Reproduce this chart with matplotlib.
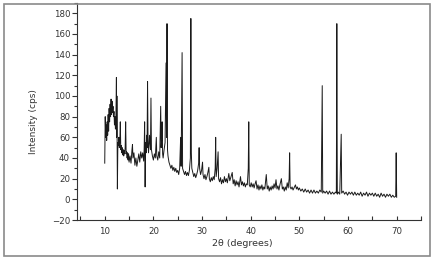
import matplotlib
matplotlib.use("Agg")
import matplotlib.pyplot as plt
from matplotlib.patches import Rectangle
from matplotlib.ticker import MultipleLocator

two_theta = [
    10.0, 10.1, 10.2, 10.3, 10.4, 10.5, 10.6, 10.7, 10.8, 10.9,
    11.0, 11.1, 11.2, 11.3, 11.4, 11.5, 11.6, 11.7, 11.8, 11.9,
    12.0, 12.1, 12.2, 12.3, 12.4, 12.45, 12.5, 12.6, 12.7, 12.8,
    12.9, 13.0, 13.1, 13.2, 13.3, 13.4, 13.5, 13.6, 13.7, 13.8,
    13.9, 14.0, 14.1, 14.2, 14.3, 14.4, 14.5, 14.6, 14.7, 14.8,
    14.9, 15.0, 15.2, 15.4, 15.6, 15.7, 15.8, 16.0, 16.2, 16.4,
    16.6, 16.8, 17.0, 17.2, 17.4, 17.6, 17.8, 18.0, 18.1, 18.2,
    18.3, 18.4, 18.5, 18.6, 18.7, 18.8, 18.9, 19.0, 19.2, 19.4,
    19.5, 19.6, 19.8, 20.0, 20.2, 20.4, 20.6, 20.7, 20.9, 21.1,
    21.3, 21.5, 21.6, 21.7, 21.8, 21.9, 22.0, 22.2, 22.4, 22.6,
    22.7, 22.8, 22.9, 23.0, 23.2, 23.4, 23.6, 23.8, 24.0, 24.2,
    24.4, 24.6, 24.8, 25.0, 25.2, 25.4, 25.6, 25.7, 25.9, 26.0,
    26.2, 26.4, 26.6, 26.8, 27.0, 27.2, 27.4, 27.6, 27.7, 27.8,
    27.9, 28.1, 28.3, 28.5, 28.7, 28.9, 29.1, 29.3, 29.4, 29.5,
    29.7, 29.9, 30.1, 30.2, 30.4, 30.6, 30.8, 31.0, 31.2, 31.4,
    31.5, 31.7, 31.9, 32.1, 32.3, 32.5, 32.7, 32.8, 32.9, 33.1,
    33.3, 33.4, 33.6, 33.8, 34.0, 34.2, 34.4, 34.6, 34.8, 35.0,
    35.2, 35.5, 35.7, 35.9, 36.2, 36.4, 36.6, 36.8, 37.0, 37.2,
    37.4, 37.6, 37.9, 38.1, 38.3, 38.5, 38.7, 38.9, 39.1, 39.3,
    39.5, 39.6, 39.7, 39.9, 40.1, 40.3, 40.5, 40.7, 40.9, 41.1,
    41.3, 41.5, 41.7, 41.9, 42.1, 42.3, 42.5, 42.7, 42.9, 43.2,
    43.4, 43.6, 43.8, 44.0, 44.2, 44.4, 44.6, 44.8, 45.0, 45.2,
    45.4, 45.6, 45.8, 46.0, 46.3, 46.5, 46.7, 46.9, 47.1, 47.3,
    47.5, 47.7, 47.9, 48.0, 48.1, 48.3, 48.5, 48.7, 48.9, 49.2,
    49.4, 49.6, 49.8, 50.0, 50.3, 50.6, 50.9, 51.2, 51.5, 51.8,
    52.1, 52.4, 52.7, 53.0, 53.3, 53.6, 53.9, 54.2, 54.5, 54.7,
    54.8, 55.0, 55.3, 55.6, 55.9, 56.2, 56.5, 56.8, 57.1, 57.4,
    57.6, 57.7, 57.8, 58.0, 58.3, 58.6, 58.7, 59.0, 59.3, 59.6,
    59.9, 60.2, 60.5, 60.8, 61.1, 61.4, 61.7, 62.0, 62.3, 62.6,
    62.9, 63.2, 63.5, 63.8, 64.1, 64.4, 64.7, 65.0, 65.3, 65.6,
    65.9, 66.2, 66.5, 66.8, 67.1, 67.4, 67.7, 68.0, 68.3, 68.6,
    68.9, 69.2, 69.5, 69.8, 69.9, 70.0,
]

intensity = [
    35, 80, 60, 72, 57, 75, 62, 82, 66, 88,
    75, 92, 80, 97, 82, 95, 84, 90, 80, 85,
    72, 80, 68, 78, 118, 60, 100, 10, 55, 52,
    60, 50, 56, 75, 48, 52, 45, 50, 43, 48,
    42, 47, 44, 50, 75, 44, 46, 40, 45, 38,
    44, 36, 42, 35, 48, 53, 40, 45, 33, 40,
    32, 38, 44, 36, 46, 40, 45, 37, 48, 75,
    12, 55, 45, 62, 50, 114, 55, 45, 62, 48,
    98, 48, 42, 38, 44, 40, 60, 42, 38, 46,
    40, 90, 50, 58, 75, 44, 40, 48, 55, 132,
    60, 170, 48, 42, 36, 33, 30, 33, 28, 31,
    27, 30, 26, 28, 24, 30, 60, 32, 142, 30,
    27, 24, 27, 23, 26, 23, 28, 40, 175, 45,
    30, 26, 22, 25, 21, 24, 28, 35, 50, 30,
    24, 28, 36, 24, 20, 24, 19, 22, 26, 31,
    20, 17, 21, 18, 22, 19, 30, 60, 22, 30,
    46, 20, 17, 21, 15, 19, 16, 22, 17, 20,
    16, 25, 18, 21, 26, 15, 19, 13, 18, 14,
    17, 12, 22, 14, 17, 13, 16, 12, 15, 14,
    30, 75, 14, 12, 16, 12, 15, 11, 15, 18,
    10, 14, 9, 13, 10, 14, 9, 12, 10, 24,
    10, 13, 8, 12, 9, 13, 10, 15, 11, 19,
    10, 13, 9, 14, 20, 10, 12, 8, 12, 9,
    16, 11, 20, 45, 12, 10, 12, 9, 11, 14,
    10, 12, 9, 11, 8, 10, 7, 10, 7, 9,
    6, 9, 6, 9, 6, 8, 6, 9, 7, 110,
    6, 8, 6, 8, 5, 8, 5, 7, 5, 7,
    6, 170, 5, 7, 5, 63, 6, 8, 5, 7,
    4, 7, 5, 7, 4, 7, 4, 6, 4, 7,
    3, 6, 4, 7, 3, 6, 4, 6, 3, 6,
    3, 5, 2, 6, 3, 5, 2, 5, 3, 5,
    2, 4, 2, 3, 45, 2,
]

x_ticks = [10, 20, 30, 40, 50, 60, 70]
y_ticks = [-20, 0, 20, 40, 60, 80, 100, 120, 140, 160, 180]

plt.rcParams['font.family'] = ['DejaVu Sans']
fig = plt.figure(figsize=(4.33, 2.62), dpi=100)
ax = fig.add_axes([77/433, 1-220/262, (421-77)/433, (220-3)/262])

ax.plot(two_theta, intensity, color='#1a1a1a', lw=0.7)

ax.set_xlim(4.3, 75)
ax.set_ylim(-20, 190)
ax.set_xticks(x_ticks)
ax.set_yticks(y_ticks)
ax.xaxis.set_minor_locator(MultipleLocator(5))
ax.yaxis.set_minor_locator(MultipleLocator(10))

for s in ['top', 'right']:
    ax.spines[s].set_visible(False)
for s in ['left', 'bottom']:
    ax.spines[s].set_color('#333333')
    ax.spines[s].set_linewidth(0.8)

ax.tick_params(axis='x', which='both', direction='in', length=3, width=0.8,
               color='#333333', labelsize=6.2, labelcolor='#333333', pad=5)
ax.tick_params(axis='y', which='major', direction='out', length=3.5, width=0.8,
               color='#333333', labelsize=6.2, labelcolor='#333333', pad=1.5)
ax.tick_params(axis='y', which='minor', direction='out', length=2, width=0.8,
               color='#333333')

fig.text(242/433, 1-244/262, '2θ (degrees)', ha='center', va='center',
         fontsize=6.8, color='#333333')
fig.text(34/433, 1-122/262, 'Intensity (cps)', ha='center', va='center',
         rotation=90, fontsize=6.5, color='#333333')

fig.patches.append(Rectangle((4/433, 6/262), 426/433, 252/262,
                             transform=fig.transFigure, fill=False,
                             edgecolor='#8a8a8a', lw=1.2))

fig.savefig('out.png', dpi=100)
